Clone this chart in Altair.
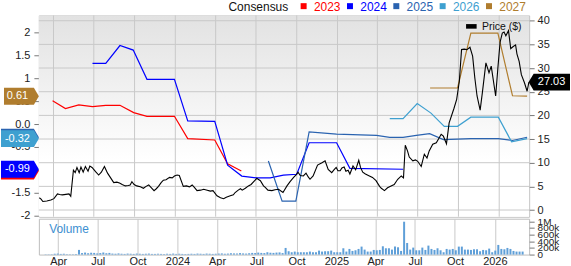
import altair as alt
import pandas as pd

FONT = "Liberation Sans"
GRID = "#c9c9c9"
LABEL = "#222222"

# ---------------- data ----------------
years = ["2023", "2024", "2025", "2026", "2027"]
year_colors = ["#ff0000", "#0000ff", "#2a63b0", "#3ea0d0", "#b07d2e"]

eps23_dates = ["2023-03-30", "2023-04-28", "2023-05-28", "2023-06-28", "2023-07-28", "2023-08-29",
               "2023-09-29", "2023-10-29", "2023-12-30", "2024-01-29", "2024-03-30", "2024-04-28",
               "2024-05-29"]
eps23_vals = [0.51, 0.34, 0.42, 0.38, 0.41, 0.41, 0.25, 0.17, 0.17, -0.32, -0.35, -0.87, -1.03]

eps24_dates = ["2023-06-28", "2023-07-28", "2023-08-29", "2023-09-28", "2023-10-29", "2023-12-30",
               "2024-01-29", "2024-03-30", "2024-04-28", "2024-05-30", "2024-07-03", "2024-08-02",
               "2024-09-01", "2024-10-01", "2024-10-29", "2024-12-30", "2025-01-29", "2025-05-29"]
eps24_vals = [1.33, 1.33, 1.72, 1.62, 0.98, 0.98, 0.07, 0.06, -0.90, -1.14, -1.18, -1.18,
              -1.12, -1.10, -0.41, -0.41, -0.97, -0.99]

eps25_dates = ["2024-07-29", "2024-08-29", "2024-09-29", "2024-10-29", "2024-12-30", "2025-03-30",
               "2025-04-29", "2025-05-29", "2025-06-28", "2025-07-28", "2025-08-28", "2025-09-29",
               "2025-10-29", "2025-12-30", "2026-01-31", "2026-03-05"]
eps25_vals = [-0.81, -1.69, -1.69, -0.17, -0.22, -0.25, -0.29, -0.29, -0.25, -0.21, -0.34, -0.33,
              -0.32, -0.32, -0.36, -0.29]

eps26_dates = ["2025-04-29", "2025-05-29", "2025-06-30", "2025-07-31", "2025-08-30", "2025-09-29",
               "2025-10-29", "2025-12-30", "2026-01-29", "2026-03-05"]
eps26_vals = [0.12, 0.12, 0.45, 0.24, -0.05, -0.05, 0.15, 0.15, -0.39, -0.32]

eps27_dates = ["2025-07-29", "2025-09-29", "2025-10-29", "2025-12-29", "2026-01-31", "2026-03-05"]
eps27_vals = [0.79, 0.79, 1.99, 1.99, 0.62, 0.61]

price_dates = [
    "2023-02-28", "2023-03-04", "2023-03-08", "2023-03-17", "2023-03-26", "2023-04-02", "2023-04-10", "2023-04-15", "2023-04-21", "2023-04-29",
    "2023-05-06", "2023-05-10", "2023-05-16", "2023-05-20", "2023-05-24", "2023-05-29", "2023-06-02", "2023-06-07", "2023-06-12", "2023-06-18",
    "2023-06-22", "2023-06-27", "2023-07-05", "2023-07-12", "2023-07-18", "2023-07-25", "2023-08-01", "2023-08-08", "2023-08-15", "2023-08-22",
    "2023-08-28", "2023-09-03", "2023-09-10", "2023-09-17", "2023-09-21", "2023-09-25", "2023-09-30", "2023-10-06", "2023-10-14", "2023-10-21",
    "2023-10-27", "2023-11-02", "2023-11-08", "2023-11-14", "2023-11-19", "2023-11-24", "2023-11-30", "2023-12-05", "2023-12-11", "2023-12-19",
    "2023-12-25", "2023-12-30", "2024-01-05", "2024-01-10", "2024-01-19", "2024-01-26", "2024-02-02", "2024-02-08", "2024-02-13", "2024-02-19",
    "2024-02-27", "2024-03-05", "2024-03-13", "2024-03-20", "2024-03-26", "2024-04-04", "2024-04-12", "2024-04-19", "2024-04-25", "2024-05-04",
    "2024-05-11", "2024-05-15", "2024-05-22", "2024-05-27", "2024-05-31", "2024-06-07", "2024-06-14", "2024-06-20", "2024-06-27", "2024-07-03",
    "2024-07-06", "2024-07-11", "2024-07-18", "2024-07-22", "2024-07-28", "2024-08-06", "2024-08-13", "2024-08-21", "2024-08-31", "2024-09-09",
    "2024-09-16", "2024-09-24", "2024-09-30", "2024-10-04", "2024-10-09", "2024-10-16", "2024-10-22", "2024-10-27", "2024-10-31", "2024-11-07",
    "2024-11-17", "2024-11-27", "2024-12-04", "2024-12-11", "2024-12-19", "2024-12-24", "2024-12-29", "2025-01-02", "2025-01-07", "2025-01-11",
    "2025-01-16", "2025-01-20", "2025-01-25", "2025-01-29", "2025-02-05", "2025-02-11", "2025-02-18", "2025-02-22", "2025-02-27", "2025-03-05",
    "2025-03-14", "2025-03-21", "2025-03-29", "2025-04-06", "2025-04-10", "2025-04-17", "2025-04-24", "2025-05-02", "2025-05-09", "2025-05-17",
    "2025-05-25", "2025-05-30", "2025-06-03", "2025-06-08", "2025-06-12", "2025-06-20", "2025-06-26", "2025-07-01", "2025-07-09", "2025-07-16",
    "2025-07-22", "2025-07-27", "2025-08-04", "2025-08-12", "2025-08-17", "2025-08-23", "2025-08-28", "2025-09-04", "2025-09-10", "2025-09-21",
    "2025-09-27", "2025-10-03", "2025-10-08", "2025-10-14", "2025-10-20", "2025-10-27", "2025-11-02", "2025-11-07", "2025-11-12", "2025-11-19",
    "2025-11-24", "2025-12-02", "2025-12-09", "2025-12-14", "2025-12-24", "2025-12-29", "2026-01-03", "2026-01-08", "2026-01-12", "2026-01-16",
    "2026-01-22", "2026-01-27", "2026-02-01", "2026-02-07", "2026-02-10", "2026-02-15", "2026-02-20", "2026-02-27", "2026-03-05", "2026-03-09"]
price_vals = [
    2.6, 2.3, 1.8, 1.9, 2.1, 2.4, 3.4, 3.3, 3.2, 3.3,
    3.4, 2.9, 8.4, 7.9, 9.0, 7.9, 9.1, 8.0, 9.2, 8.2,
    9.3, 9.0, 8.1, 7.4, 8.0, 9.2, 7.8, 6.8, 5.8, 5.9,
    5.7, 5.4, 5.1, 5.2, 5.3, 6.0, 5.4, 5.1, 4.9, 4.6,
    5.0, 5.3, 4.7, 4.1, 4.5, 5.0, 5.8, 6.3, 6.4, 6.9,
    6.8, 7.2, 7.4, 7.3, 5.0, 5.1, 4.9, 5.3, 4.8, 4.1,
    4.2, 4.4, 4.2, 4.0, 4.1, 3.0, 2.6, 2.4, 2.7, 3.0,
    3.2, 3.7, 4.2, 4.5, 4.2, 4.6, 5.1, 5.4, 6.1, 6.7,
    6.5, 6.2, 5.1, 4.8, 4.2, 4.1, 4.3, 4.4, 3.7, 5.1,
    6.0, 6.9, 7.5, 8.0, 7.3, 7.2, 7.8, 7.0, 6.5, 7.2,
    9.5, 10.0, 10.4, 8.6, 7.9, 8.5, 9.0, 8.3, 8.3, 8.9,
    9.1, 8.2, 8.4, 7.6, 9.3, 8.5, 10.5, 9.0, 8.0, 7.6,
    7.2, 6.9, 6.2, 5.0, 4.6, 4.1, 4.7, 5.1, 5.4, 6.5,
    7.2, 6.8, 13.7, 12.5, 11.2, 10.4, 10.6, 10.3, 9.2, 11.8,
    11.0, 12.5, 13.9, 14.2, 15.0, 16.0, 15.6, 14.0, 18.4, 21.5,
    23.4, 27.2, 33.9, 34.0, 33.9, 34.4, 32.5, 27.9, 24.1, 21.1,
    24.8, 31.1, 29.0, 30.4, 24.1, 30.0, 35.5, 37.4, 37.6, 36.8,
    37.9, 34.1, 34.5, 34.9, 33.0, 31.4, 28.6, 26.9, 25.1, 27.03]

# weekly volume (thousands of shares), first week starting 2023-03-03
vol_first_week = "2023-03-03"
vol_k = [
    8, 8, 10, 25, 30, 20, 25, 12, 10, 10, 15, 140, 45, 60, 40, 55, 50, 35, 45, 60, 40, 50,
    30, 25, 35, 25, 20, 30, 25, 20, 30, 25, 20, 25, 30, 20,
    20, 25, 20, 15, 25, 20, 30, 20, 25, 20, 15, 20, 25, 20, 30,
    25, 20, 30, 25, 20, 25, 30, 35, 25, 30, 40, 35, 30, 45, 35, 30, 40, 50, 45,
    60, 50, 45, 70, 55, 50, 60, 65, 45,
    199, 100, 70, 90, 70, 70, 70, 70, 90, 70,
    70, 119, 90, 100, 100, 119, 70, 70, 70, 189,
    90, 169, 109, 129, 169, 239, 149, 90, 90, 139,
    129, 139, 249, 189, 189, 149, 239, 219, 109, 985,
    348, 149, 209, 129, 129, 209, 139, 269, 169, 139,
    189, 129, 70, 169, 149, 169, 129, 239, 239, 149,
    149, 139, 159, 159, 100, 139, 129, 179, 70, 119,
    289, 169, 159, 199, 169, 109, 90, 90, 90]

quarter_starts = ["2023-04-01", "2023-07-01", "2023-10-01", "2024-01-01", "2024-04-01", "2024-07-01",
                  "2024-10-01", "2025-01-01", "2025-04-01", "2025-07-01", "2025-10-01", "2026-01-01"]
eps_ticks = [-2, -1.5, -1, -0.5, 0, 0.5, 1, 1.5, 2]
price_ticks = [0, 5, 10, 15, 20, 25, 30, 35, 40]
vol_ticks = [0, 200000, 400000, 600000, 800000, 1000000]

# ---------------- frames ----------------
series = {"2023": (eps23_dates, eps23_vals), "2024": (eps24_dates, eps24_vals),
          "2025": (eps25_dates, eps25_vals), "2026": (eps26_dates, eps26_vals),
          "2027": (eps27_dates, eps27_vals)}
rows = []
for yr in years:
    ds, vs = series[yr]
    rows += [{"date": d, "eps": v, "year": yr} for d, v in zip(ds, vs)]
eps_df = pd.DataFrame(rows)
price_df = pd.DataFrame({"date": price_dates, "price": price_vals})
vol_dates = pd.date_range(vol_first_week, periods=len(vol_k), freq="7D").strftime("%Y-%m-%d")
vol_df = pd.DataFrame({"date": list(vol_dates), "volume": [v * 1000 for v in vol_k]})
one = alt.Data(values=[{}])

# ---------------- layout ----------------
W, H1, H2 = 492, 202, 36

xscale = alt.Scale(type="utc", domain=[alt.DateTime(year=2023, month=2, date=27, utc=True),
                                       alt.DateTime(year=2026, month=3, date=9, hours=14, utc=True)])
eps_scale = alt.Scale(domain=[-2.03, 2.38], nice=False, zero=False)
price_scale = alt.Scale(domain=[-1.41, 41.12], nice=False, zero=False)
vol_scale = alt.Scale(domain=[0, 1075000], nice=False, zero=False)

eps_axis = alt.Axis(orient="left", values=eps_ticks, title=None, grid=False, domain=False,
                    tickSize=5, tickColor="#777", labelPadding=4, labelFontSize=11,
                    labelColor=LABEL, labelFont=FONT,
                    labelExpr="datum.value == 0 ? '0.0' : '' + datum.value")
price_axis = alt.Axis(orient="right", values=price_ticks, title=None, grid=False, domain=False,
                      tickSize=5, tickColor="#777", labelPadding=3, labelFontSize=11,
                      labelColor=LABEL, labelFont=FONT)
vol_axis = alt.Axis(orient="right", values=vol_ticks, title=None, grid=False, domain=False,
                    tickSize=5, tickColor="#777", labelPadding=3, labelFontSize=10,
                    labelColor=LABEL, labelFont=FONT, labelOverlap=False,
                    labelExpr="datum.value == 0 ? '0' : (datum.value >= 1000000 ? '1M' : (datum.value / 1000) + 'k')")
x_axis_bottom = alt.Axis(values=[alt.DateTime(year=int(q[:4]), month=int(q[5:7]), date=1, utc=True)
                                 for q in quarter_starts],
                         title=None, grid=True, gridColor=GRID, ticks=False, domain=False,
                         labelPadding=1, labelFontSize=11, labelColor=LABEL, labelFont=FONT,
                         labelFlush=False, labelOverlap=False,
                         labelExpr="utcmonth(datum.value) == 0 ? utcFormat(datum.value, '%Y') : utcFormat(datum.value, '%b')")

X = alt.X("date:T", scale=xscale, axis=None)

bg = alt.Chart(one).mark_rect(
    fill=alt.LinearGradient(gradient="linear", x1=0, x2=0, y1=0, y2=1,
                            stops=[alt.GradientStop(color="#e2e2e2", offset=0),
                                   alt.GradientStop(color="#ffffff", offset=0.72)])
).encode(x=alt.value(0), x2=alt.value(W), y=alt.value(0), y2=alt.value(H1))

bounds = alt.Chart(one).mark_rect(opacity=0, color="white").encode(
    x=alt.value(-38), x2=alt.value(533), y=alt.value(-14), y2=alt.value(-12))

vgrid = alt.Chart(pd.DataFrame({"date": quarter_starts})).mark_rule(color=GRID, strokeWidth=1).encode(
    x=X, y=alt.value(0), y2=alt.value(H1))
hgrid = alt.Chart(pd.DataFrame({"price": price_ticks})).mark_rule(color=GRID, strokeWidth=1).encode(
    y=alt.Y("price:Q", scale=price_scale, axis=None), x=alt.value(0), x2=alt.value(W))

eps_lines = alt.Chart(eps_df).mark_line(strokeWidth=1.2).encode(
    x=X, y=alt.Y("eps:Q", scale=eps_scale, axis=eps_axis),
    color=alt.Color("year:N", scale=alt.Scale(domain=years, range=year_colors), legend=None))


def left_tag(value, color, show_text):
    label = f"{value:.2f}"
    width = 35.0 if value >= 0 else 38.0
    half = 17.0 / width
    body = 1 - 10.0 / width
    path = f"M-1,{-half:.3f}L{body:.3f},{-half:.3f}L1,0L{body:.3f},{half:.3f}L-1,{half:.3f}Z"
    base = alt.Chart(pd.DataFrame({"eps": [value]}))
    y = alt.Y("eps:Q", scale=eps_scale, axis=eps_axis)
    out = [base.mark_point(shape=path, size=width * width, filled=True, color=color,
                           opacity=1, strokeWidth=0).encode(x=alt.value(-width / 2), y=y)]
    if show_text:
        out.append(base.mark_text(text=label, color="white", fontSize=11, font=FONT, align="center",
                                  baseline="middle").encode(x=alt.value(-21.5), y=y))
    return out


# tags drawn back to front; the 2023 and 2025 tags sit behind 2024 and 2026
tag_layers = []
for yr, show in [("2023", False), ("2024", True), ("2025", False), ("2026", True), ("2027", True)]:
    tag_layers += left_tag(series[yr][1][-1], year_colors[years.index(yr)], show)
eps_layer = alt.layer(eps_lines, *tag_layers)

price_line = alt.Chart(price_df).mark_line(color="black", strokeWidth=1.1).encode(
    x=X, y=alt.Y("price:Q", scale=price_scale, axis=price_axis))
rw = 41.5
rhalf = 17.0 / rw
rbody = -1 + 10.0 / rw
rpath = f"M-1,0L{rbody:.3f},{-rhalf:.3f}L1,{-rhalf:.3f}L1,{rhalf:.3f}L{rbody:.3f},{rhalf:.3f}Z"
last_price = pd.DataFrame({"price": [price_vals[-1]]})
py = alt.Y("price:Q", scale=price_scale, axis=price_axis)
ptag = alt.Chart(last_price).mark_point(shape=rpath, size=rw * rw, filled=True, color="black",
                                        opacity=1, strokeWidth=0).encode(x=alt.value(W + rw / 2 - 0.5), y=py)
ptag_text = alt.Chart(last_price).mark_text(text=f"{price_vals[-1]:.2f}", color="white", fontSize=11,
                                            font=FONT, align="center", baseline="middle").encode(
    x=alt.value(W + 22.5), y=py)
price_layer = alt.layer(price_line, ptag, ptag_text)

# legend / annotations
legend_layers = [
    alt.Chart(one).mark_text(text="Consensus", fontSize=12, font=FONT, color="#111", align="left",
                             baseline="middle").encode(x=alt.value(190.3), y=alt.value(-8))
]
for i, (yr, col) in enumerate(zip(years, year_colors)):
    legend_layers.append(alt.Chart(one).mark_square(size=36, color=col, opacity=1).encode(
        x=alt.value(265.7 + 46.5 * i), y=alt.value(-9.3)))
    legend_layers.append(alt.Chart(one).mark_text(text=yr, fontSize=12, font=FONT, color=col,
                                                  align="left", baseline="middle").encode(
        x=alt.value(276 + 46.5 * i), y=alt.value(-8)))
legend_layers.append(alt.Chart(one).mark_rect(color="black").encode(
    x=alt.value(428.7), x2=alt.value(439.3), y=alt.value(8.7), y2=alt.value(13.3)))
legend_layers.append(alt.Chart(one).mark_text(text="Price ($)", fontSize=10.5, font=FONT, color="#111",
                                              align="left", baseline="middle").encode(
    x=alt.value(444.7), y=alt.value(11.5)))

top = alt.layer(bg, bounds, vgrid, hgrid, eps_layer, price_layer, *legend_layers).resolve_scale(
    y="independent").properties(width=W, height=H1)

vol_bars = alt.Chart(vol_df).mark_bar(size=2, color="#5f9fd8").encode(
    x=alt.X("date:T", scale=xscale, axis=x_axis_bottom),
    y=alt.Y("volume:Q", scale=vol_scale, axis=vol_axis))
vol_text = alt.Chart(one).mark_text(text="Volume", fontSize=12, font=FONT, color="#3d8fd1",
                                    align="left", baseline="middle").encode(
    x=alt.value(10.3), y=alt.value(10.7))
vol = alt.layer(vol_bars, vol_text).properties(width=W, height=H2)

chart = alt.vconcat(top, vol, spacing=2, bounds="flush", padding=0).configure(
    font=FONT).configure_view(stroke="#bdbdbd", strokeWidth=1)

chart.save("out.html", embed_options={"renderer": "svg", "actions": False})
